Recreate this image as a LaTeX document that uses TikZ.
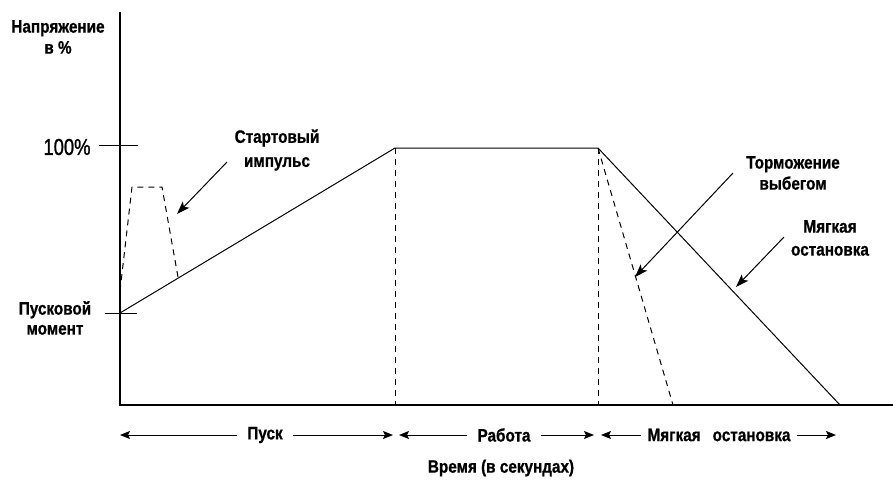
\documentclass[tikz,border=0pt]{standalone}
\usepackage{fontspec}
\setmainfont{Liberation Sans}
\newfontfamily\narrowfont[FakeStretch=0.8,FakeBold=1]{Liberation Sans}
\newfontfamily\labfont[FakeStretch=0.85,BoldFeatures={FakeBold=0.8}]{Liberation Sans}
\usetikzlibrary{arrows.meta}
\tikzset{
  lab/.style={font=\labfont\bfseries\fontsize{18}{21}\selectfont,align=center,inner sep=0pt},
  curve/.style={line width=1pt},
  dsh/.style={line width=1pt,dash pattern=on 6pt off 5pt},
  axis/.style={line width=1.3pt},
  pointer/.style={line width=1pt,arrows={-Stealth[length=13pt,width=9pt,inset=3pt]}},
  span/.style={line width=1pt,arrows={-Stealth[length=10pt,width=8pt,inset=2pt]}}
}
\begin{document}
\begin{tikzpicture}[x=1pt,y=-1pt]
\useasboundingbox (0,0) rectangle (893,479);
% axes
\coordinate (o) at (120,405);
\coordinate (ytop) at (120,12);
\coordinate (xend) at (893,405);
\draw[axis] (ytop) -- (o) -- (xend);
% ticks
\coordinate (h1) at (99,145);
\coordinate (h2) at (138,145);
\coordinate (s1) at (105,313);
\coordinate (s2) at (137,313);
\draw[curve] (h1) -- (h2);
\draw[curve] (s1) -- (s2);
% main curve
\coordinate (t0) at (120,313);
\coordinate (t1) at (395,148);
\coordinate (t2) at (598,148);
\coordinate (t3) at (840,405);
\draw[curve] (t0) -- (t1) -- (t2) -- (t3);
\draw[dsh] (t1) -- (t1 |- o);
\draw[dsh] (t2) -- (t2 |- o);
% kick start
\coordinate (k0) at (120,291);
\coordinate (k1) at (132,187);
\coordinate (k2) at (162,187);
\coordinate (k3) at (178,277);
\draw[dsh] (k0) -- (k1) -- (k2) -- (k3);
% coast
\coordinate (c1) at (673,405);
\draw[dsh] (t2) -- (c1);
% labels
\node[lab] (volt) at (58,37) {Напряжение\\в \%};
\node[font=\narrowfont\fontsize{23}{24}\selectfont,inner sep=0pt] (hund) at (67,147) {100\%};
\node[lab,font=\labfont\bfseries\fontsize{18}{20}\selectfont] (tq) at (55,318) {Пусковой\\момент};
\node[lab,font=\labfont\bfseries\fontsize{18}{24}\selectfont] (kick) at (277,150) {Стартовый\\импульс};
\node[lab] (coast) at (793,173) {Торможение\\выбегом};
\node[lab,font=\labfont\bfseries\fontsize{18}{23}\selectfont] (soft) at (830,238) {Мягкая\\остановка};
% pointers
\coordinate (p1s) at (227,162);
\coordinate (p1e) at (177,214);
\coordinate (p2s) at (733,173);
\coordinate (p2e) at (635,277);
\coordinate (p3s) at (784,237);
\coordinate (p3e) at (736,287);
\draw[pointer] (p1s) -- (p1e);
\draw[pointer] (p2s) -- (p2e);
\draw[pointer] (p3s) -- (p3e);
% bottom spans
\node[lab] (pusk) at (265,435) {Пуск};
\node[lab] (rab) at (504,435) {Работа};
\node[lab] (ost) at (719,435) {Мягкая\hspace{12pt}остановка};
\coordinate (a1) at (120,435);
\coordinate (a2) at (393,435);
\coordinate (a3) at (399,435);
\coordinate (a4) at (594,435);
\coordinate (a5) at (601,435);
\coordinate (a6) at (836,435);
\draw[span] ([xshift=-10pt]pusk.west) -- (a1);
\draw[span] ([xshift=10pt]pusk.east) -- (a2);
\draw[span] ([xshift=-10pt]rab.west) -- (a3);
\draw[span] ([xshift=10pt]rab.east) -- (a4);
\draw[span] ([xshift=-6pt]ost.west) -- (a5);
\draw[span] ([xshift=6pt]ost.east) -- (a6);
\node[lab] (time) at (501,468) {Время (в секундах)};
\end{tikzpicture}
\end{document}
